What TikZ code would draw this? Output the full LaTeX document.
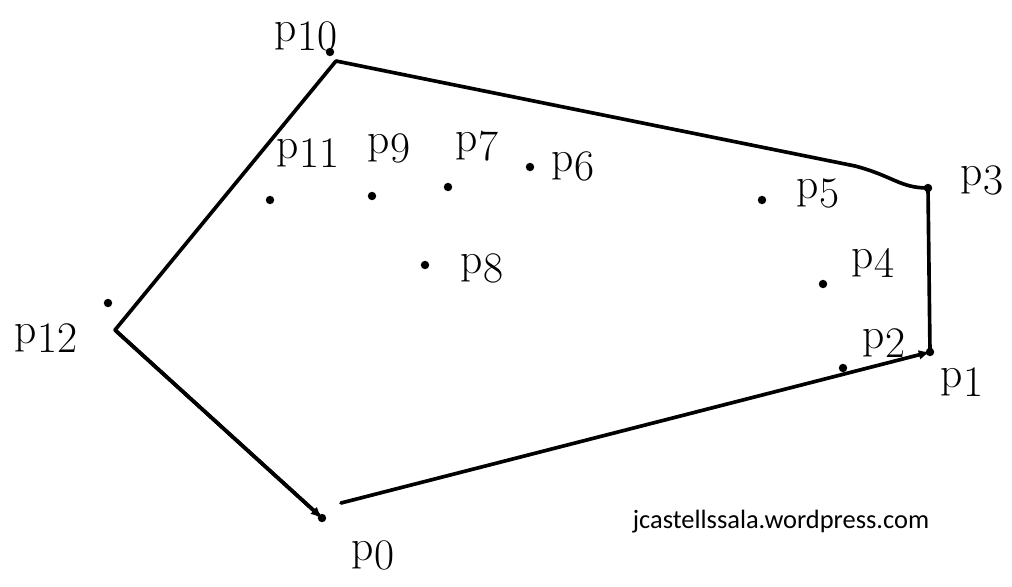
\documentclass[tikz,border=0pt]{standalone}
\usepackage{fontspec}
\newfontfamily\wmfont{Carlito}
\usetikzlibrary{arrows.meta}
\tikzset{
  hull/.style={line width=2.6pt,line cap=round,line join=round},
  dot/.style={circle,fill,inner sep=0pt,minimum size=6pt},
  lbl/.style={font=\fontsize{31}{31}\selectfont,inner sep=0pt},
}
\newcommand{\plbl}[1]{p\lower.2em\hbox{#1}}

\begin{document}
\begin{tikzpicture}[x=0.025cm,y=-0.025cm,>={Latex[length=8pt,width=7pt]}]
  \useasboundingbox (0,0) rectangle (1012,586);
  % the points
  \foreach \n/\x/\y in {0/322/518,1/930/352,2/843/368,3/928/188,4/823/284,5/762/200,6/530/167,
                        7/448/187,8/425/265,9/372/196,10/330/52,11/270/200,12/108/303}
    {\node[dot] (P\n) at (\x,\y) {};}
  % labels
  \foreach \n/\x/\y in {0/373/555,1/962/382,2/884/343,3/982/180,4/873/263,5/818/193,6/573/166,
                        7/477/146,8/482/268,9/389/148,10/306/36,11/308/153,12/46/338}
    {\node[lbl] (L\n) at (\x,\y) {\plbl{\n}};}
  % hull
  \coordinate (H12) at (115,330);
  \coordinate (H10) at (336,61);
  \coordinate (B3) at (855,166);
  \coordinate (S0) at (341,503);
  \draw[hull] (P0) -- (H12) -- (H10) -- (B3) .. controls (893,176) and (900,188) .. (P3.center) -- (P1.center);
  \draw[hull,->] (H12) -- (P0.center);
  \draw[hull,->] (S0) -- (P1.center);
  \node[font=\wmfont\fontsize{18.8}{19}\selectfont] (wm) at (781,522) {jcastellssala.wordpress.com};
\end{tikzpicture}
\end{document}
